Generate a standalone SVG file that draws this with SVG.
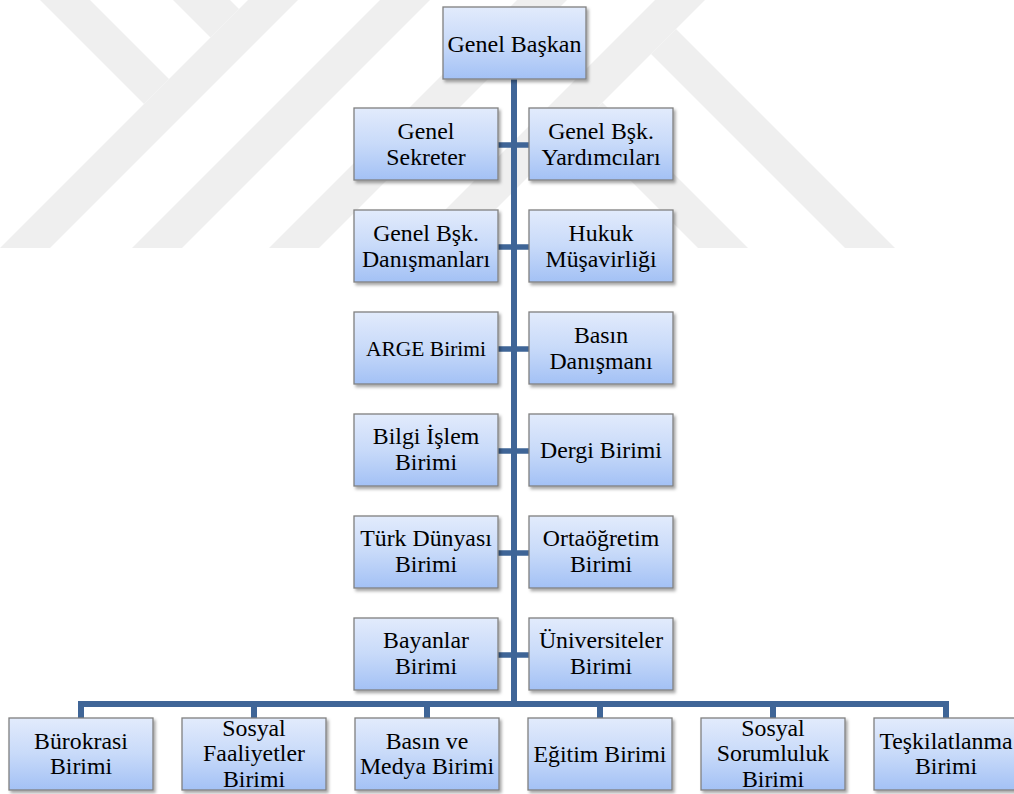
<svg xmlns="http://www.w3.org/2000/svg" width="1014" height="794" viewBox="0 0 1014 794">
<defs>
<linearGradient id="boxfill" x1="0" y1="0" x2="0" y2="1">
<stop offset="0" stop-color="#e2ebfc"/>
<stop offset="0.5" stop-color="#c8daf9"/>
<stop offset="1" stop-color="#a3c1f5"/>
</linearGradient>
<filter id="shadow" x="-10%" y="-10%" width="125%" height="130%">
<feDropShadow dx="2" dy="2.5" stdDeviation="1.6" flood-color="#000" flood-opacity="0.35"/>
</filter>
<clipPath id="wmclip"><rect x="0" y="0" width="1014" height="248"/></clipPath>
</defs>
<style>
.wm{fill:#efefef}
.box{fill:url(#boxfill);stroke:#808080;stroke-width:1.3;filter:url(#shadow)}
.conn{fill:none;stroke:#3f6597;stroke-width:6;stroke-linejoin:miter;stroke-linecap:butt}
.br{fill:none;stroke:#3f6597;stroke-width:5.5}
.lbl text{font-size:23.8px;fill:#000;text-anchor:middle}
.lbl text.big{font-size:24px}
.lbl text.sm{font-size:21.5px}
</style>
<rect x="0" y="0" width="1014" height="794" fill="#ffffff"/>
<g id="watermark" clip-path="url(#wmclip)">
<polygon class="wm" points="248,0 298,0 50,248 0,248"/>
<polygon class="wm" points="380,0 430,0 182,248 132,248"/>
<polygon class="wm" points="517,0 567,0 319,248 269,248"/>
<polygon class="wm" points="655,0 705,0 457,248 407,248"/>
<polygon class="wm" points="40,0 90,0 169,79 144,104"/>
<polygon class="wm" points="173,0 230,0 239,9 210.5,37.5"/>
<polygon class="wm" points="676,29 895,248 845,248 651,54"/>
<polygon class="wm" points="602.5,102.5 748,248 698,248 577.5,127.5"/>
</g>
<g id="connectors">
<path class="conn" d="M514,79 V704"/>
<path class="conn" d="M81,718 V704 H946 V718"/>
<path class="conn" d="M254,704 V718 M427,704 V718 M600,704 V718 M773,704 V718"/>
<path class="br" d="M498,145 H529 M498,247 H529 M498,349 H529 M498,451 H529 M498,553 H529 M498,655 H529"/>
</g>
<g class="lbl" font-family="Liberation Serif, DejaVu Serif, serif">
<g id="n-genel-baskan"><rect class="box" x="443" y="7" width="143" height="72"/><text class="big" x="514.5" y="51.5">Genel Başkan</text></g>
<g id="n-genel-sekreter"><rect class="box" x="354" y="108" width="144" height="72"/><text x="426" y="138.5">Genel</text><text x="426" y="164.5">Sekreter</text></g>
<g id="n-genel-bsk-yardimcilari"><rect class="box" x="529" y="108" width="144" height="72"/><text x="601" y="138.5">Genel Bşk.</text><text x="601" y="164.5">Yardımcıları</text></g>
<g id="n-genel-bsk-danismanlari"><rect class="box" x="354" y="210" width="144" height="72"/><text x="426" y="240.5">Genel Bşk.</text><text x="426" y="266.5">Danışmanları</text></g>
<g id="n-hukuk-musavirligi"><rect class="box" x="529" y="210" width="144" height="72"/><text x="601" y="240.5">Hukuk</text><text x="601" y="266.5">Müşavirliği</text></g>
<g id="n-arge-birimi"><rect class="box" x="354" y="312" width="144" height="72"/><text class="sm" x="426" y="355.5">ARGE Birimi</text></g>
<g id="n-basin-danismani"><rect class="box" x="529" y="312" width="144" height="72"/><text x="601" y="342.5">Basın</text><text x="601" y="368.5">Danışmanı</text></g>
<g id="n-bilgi-islem-birimi"><rect class="box" x="354" y="414" width="144" height="72"/><text x="426" y="444">Bilgi İşlem</text><text x="426" y="469.5">Birimi</text></g>
<g id="n-dergi-birimi"><rect class="box" x="529" y="414" width="144" height="72"/><text x="601" y="457.5">Dergi Birimi</text></g>
<g id="n-turk-dunyasi-birimi"><rect class="box" x="354" y="516" width="144" height="72"/><text x="426" y="546">Türk Dünyası</text><text x="426" y="571.5">Birimi</text></g>
<g id="n-ortaogretim-birimi"><rect class="box" x="529" y="516" width="144" height="72"/><text x="601" y="546">Ortaöğretim</text><text x="601" y="571.5">Birimi</text></g>
<g id="n-bayanlar-birimi"><rect class="box" x="354" y="618" width="144" height="72"/><text x="426" y="648">Bayanlar</text><text x="426" y="673.5">Birimi</text></g>
<g id="n-universiteler-birimi"><rect class="box" x="529" y="618" width="144" height="72"/><text x="601" y="648">Üniversiteler</text><text x="601" y="673.5">Birimi</text></g>
<g id="n-burokrasi-birimi"><rect class="box" x="9" y="718" width="144" height="72"/><text x="81" y="748.5">Bürokrasi</text><text x="81" y="774">Birimi</text></g>
<g id="n-sosyal-faaliyetler-birimi"><rect class="box" x="182" y="718" width="144" height="72"/><text x="254" y="735.5">Sosyal</text><text x="254" y="761">Faaliyetler</text><text x="254" y="786.5">Birimi</text></g>
<g id="n-basin-ve-medya-birimi"><rect class="box" x="355" y="718" width="144" height="72"/><text x="427" y="748.5">Basın ve</text><text x="427" y="774">Medya Birimi</text></g>
<g id="n-egitim-birimi"><rect class="box" x="528" y="718" width="144" height="72"/><text x="600" y="761.5">Eğitim Birimi</text></g>
<g id="n-sosyal-sorumluluk-birimi"><rect class="box" x="701" y="718" width="144" height="72"/><text x="773" y="735.5">Sosyal</text><text x="773" y="761">Sorumluluk</text><text x="773" y="786.5">Birimi</text></g>
<g id="n-teskilatlanma-birimi"><rect class="box" x="874" y="718" width="144" height="72"/><text x="946" y="748.5">Teşkilatlanma</text><text x="946" y="774">Birimi</text></g>
</g>
</svg>
